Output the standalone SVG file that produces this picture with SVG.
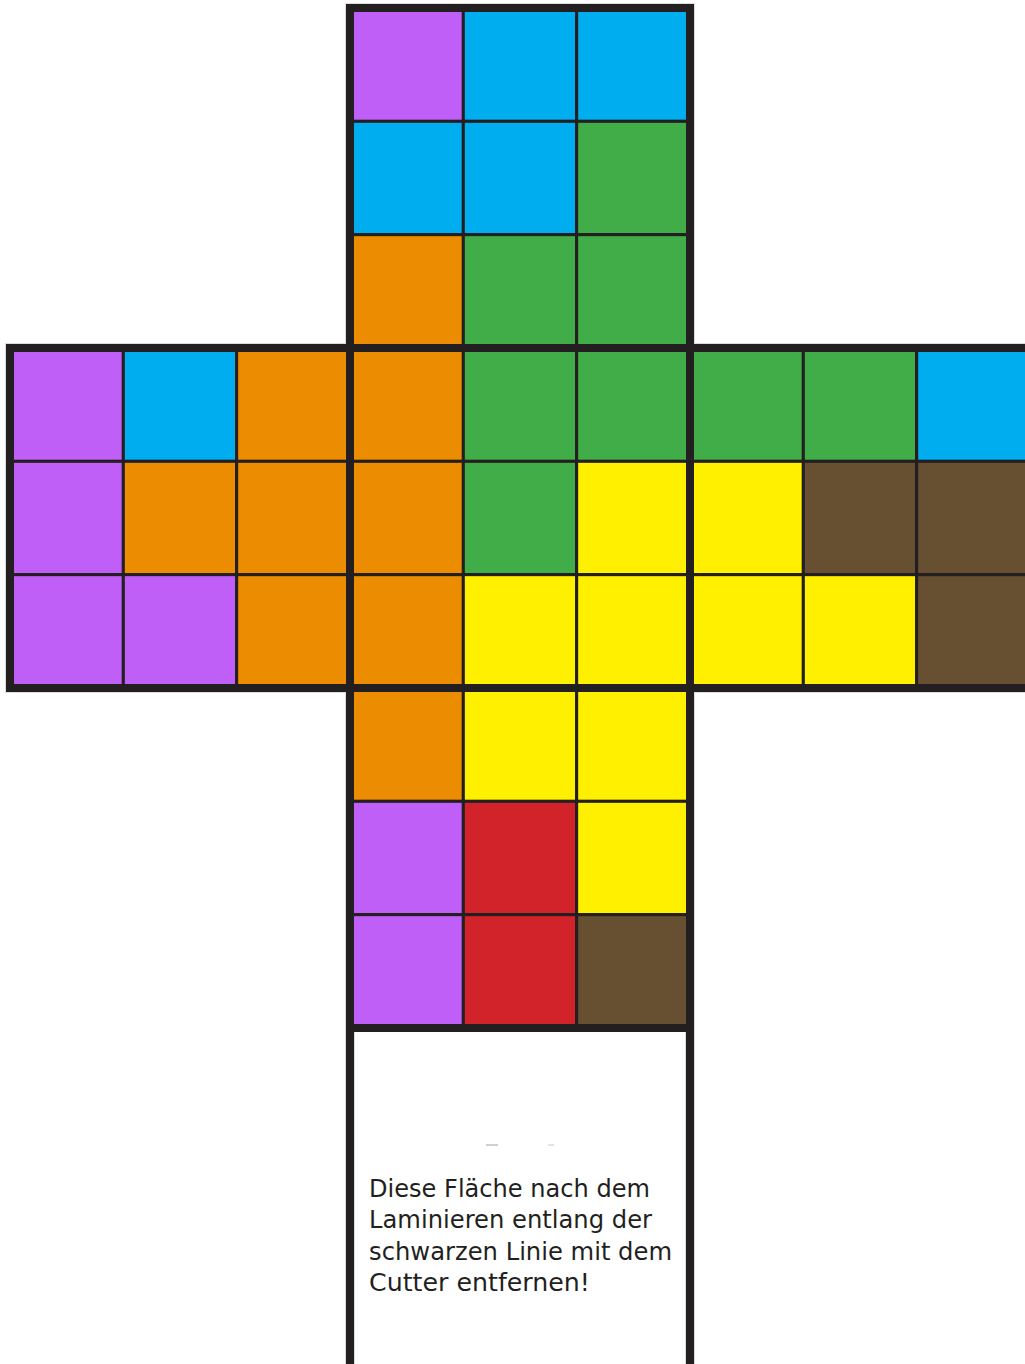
<svg xmlns="http://www.w3.org/2000/svg" width="1025" height="1364" viewBox="0 0 1025 1364">
<style>
.c{stroke:#231f20;stroke-width:3}
.p{fill:#bf5ff8}.b{fill:#00adef}.g{fill:#41ad49}.o{fill:#ec8c00}.y{fill:#fff000}.n{fill:#665031}.r{fill:#d2232a}
.halo{fill:none;stroke:#dcdcdc;stroke-width:10;stroke-linejoin:miter}
.thick{fill:none;stroke:#231f20;stroke-width:8;stroke-linejoin:miter}
.txt{font-family:"DejaVu Sans","Liberation Sans",sans-serif;font-size:24px;fill:#231f20}
</style>
<rect width="1025" height="1364" fill="#ffffff"/>
<g id="halo">
<path class="halo" d="M350,1372 V8 H690 V1372 M5,348 H1035 M5,688 H1035 M10,343 V693"/>
</g>
<g id="top-face">
<rect class="c p" x="350" y="8" width="113.33" height="113.33"/>
<rect class="c b" x="463.33" y="8" width="113.33" height="113.33"/>
<rect class="c b" x="576.67" y="8" width="113.33" height="113.33"/>
<rect class="c b" x="350" y="121.33" width="113.33" height="113.33"/>
<rect class="c b" x="463.33" y="121.33" width="113.33" height="113.33"/>
<rect class="c g" x="576.67" y="121.33" width="113.33" height="113.33"/>
<rect class="c o" x="350" y="234.67" width="113.33" height="113.33"/>
<rect class="c g" x="463.33" y="234.67" width="113.33" height="113.33"/>
<rect class="c g" x="576.67" y="234.67" width="113.33" height="113.33"/>
</g>
<g id="left-face">
<rect class="c p" x="10" y="348" width="113.33" height="113.33"/>
<rect class="c b" x="123.33" y="348" width="113.33" height="113.33"/>
<rect class="c o" x="236.67" y="348" width="113.33" height="113.33"/>
<rect class="c p" x="10" y="461.33" width="113.33" height="113.33"/>
<rect class="c o" x="123.33" y="461.33" width="113.33" height="113.33"/>
<rect class="c o" x="236.67" y="461.33" width="113.33" height="113.33"/>
<rect class="c p" x="10" y="574.67" width="113.33" height="113.33"/>
<rect class="c p" x="123.33" y="574.67" width="113.33" height="113.33"/>
<rect class="c o" x="236.67" y="574.67" width="113.33" height="113.33"/>
</g>
<g id="front-face">
<rect class="c o" x="350" y="348" width="113.33" height="113.33"/>
<rect class="c g" x="463.33" y="348" width="113.33" height="113.33"/>
<rect class="c g" x="576.67" y="348" width="113.33" height="113.33"/>
<rect class="c o" x="350" y="461.33" width="113.33" height="113.33"/>
<rect class="c g" x="463.33" y="461.33" width="113.33" height="113.33"/>
<rect class="c y" x="576.67" y="461.33" width="113.33" height="113.33"/>
<rect class="c o" x="350" y="574.67" width="113.33" height="113.33"/>
<rect class="c y" x="463.33" y="574.67" width="113.33" height="113.33"/>
<rect class="c y" x="576.67" y="574.67" width="113.33" height="113.33"/>
</g>
<g id="right-face">
<rect class="c g" x="690" y="348" width="113.33" height="113.33"/>
<rect class="c g" x="803.33" y="348" width="113.33" height="113.33"/>
<rect class="c b" x="916.67" y="348" width="113.33" height="113.33"/>
<rect class="c y" x="690" y="461.33" width="113.33" height="113.33"/>
<rect class="c n" x="803.33" y="461.33" width="113.33" height="113.33"/>
<rect class="c n" x="916.67" y="461.33" width="113.33" height="113.33"/>
<rect class="c y" x="690" y="574.67" width="113.33" height="113.33"/>
<rect class="c y" x="803.33" y="574.67" width="113.33" height="113.33"/>
<rect class="c n" x="916.67" y="574.67" width="113.33" height="113.33"/>
</g>
<g id="bottom-face">
<rect class="c o" x="350" y="688" width="113.33" height="113.33"/>
<rect class="c y" x="463.33" y="688" width="113.33" height="113.33"/>
<rect class="c y" x="576.67" y="688" width="113.33" height="113.33"/>
<rect class="c p" x="350" y="801.33" width="113.33" height="113.33"/>
<rect class="c r" x="463.33" y="801.33" width="113.33" height="113.33"/>
<rect class="c y" x="576.67" y="801.33" width="113.33" height="113.33"/>
<rect class="c p" x="350" y="914.67" width="113.33" height="113.33"/>
<rect class="c r" x="463.33" y="914.67" width="113.33" height="113.33"/>
<rect class="c n" x="576.67" y="914.67" width="113.33" height="113.33"/>
</g>
<g id="outlines">
<path class="thick" d="M350,1372 V8 H690 V1372 M6,348 H1035 M6,688 H1035 M10,344 V692 M350,1028 H690"/>
</g>
<g id="tab">
<line x1="486" y1="1145" x2="498" y2="1145" stroke="#b0b0b0" stroke-width="1.2"/>
<line x1="548" y1="1145" x2="554" y2="1145" stroke="#c8c8c8" stroke-width="1"/>
<text class="txt" x="369" y="1197" textLength="281" lengthAdjust="spacingAndGlyphs">Diese Fläche nach dem</text>
<text class="txt" x="369" y="1228" textLength="283" lengthAdjust="spacingAndGlyphs">Laminieren entlang der</text>
<text class="txt" x="369" y="1260" textLength="303" lengthAdjust="spacingAndGlyphs">schwarzen Linie mit dem</text>
<text class="txt" x="369" y="1291" textLength="221" lengthAdjust="spacingAndGlyphs">Cutter entfernen!</text>
</g>
</svg>
